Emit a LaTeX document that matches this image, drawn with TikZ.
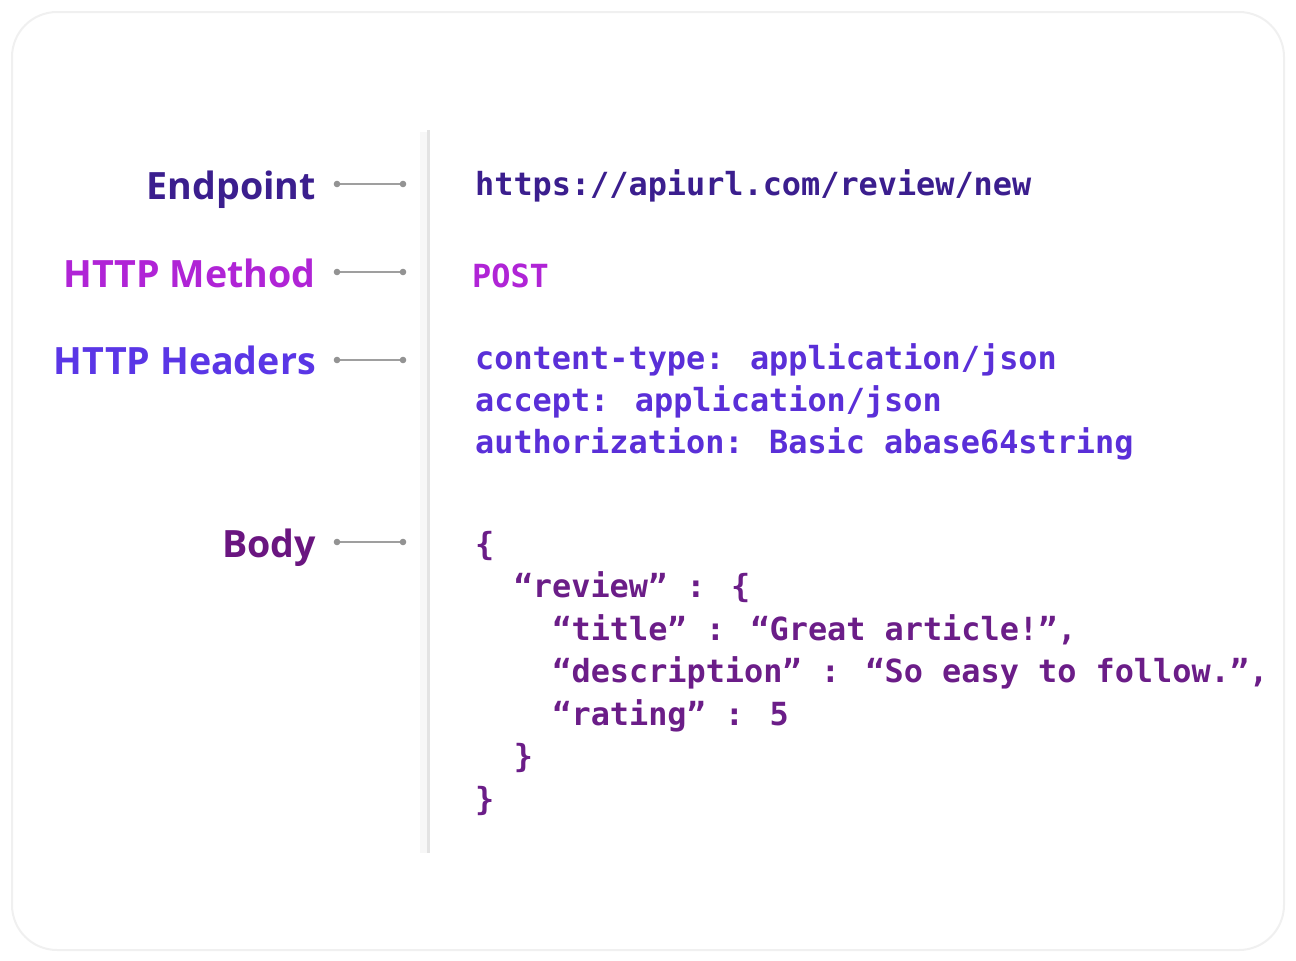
\documentclass[tikz,border=0pt]{standalone}
\usepackage{fontspec}
\setmainfont{Open Sans}
\newfontfamily\codefont{DejaVu Sans Mono}
\definecolor{cEnd}{HTML}{3B1E8E}
\definecolor{cMeth}{HTML}{B024D6}
\definecolor{cHead}{HTML}{5A36E6}
\definecolor{cHeadCode}{HTML}{5A2FD8}
\definecolor{cBody}{HTML}{6A1580}
\definecolor{cBodyCode}{HTML}{6B1D88}
\tikzset{
  lbl/.style={anchor=base east, inner sep=0pt, font=\fontsize{37.6}{44}\selectfont\bfseries},
  code/.style={anchor=base west, inner sep=0pt, font=\fontsize{31.85}{42}\selectfont\codefont\bfseries},
  conn/.style={draw=gray!75, line width=1.5pt},
  dotmark/.style={fill=gray!85, draw=none}
}
\begin{document}
\begin{tikzpicture}[x=1pt,y=-1pt]
\useasboundingbox (0,0) rectangle (1296,961);
% card
\draw[draw=gray!12, line width=2pt, fill=white, rounded corners=45pt] (12,12) rectangle (1284,950);
% divider
\draw[gray!6, line width=8pt] (424,132) -- (424,853);
\draw[gray!22, line width=3pt] (428,130) -- (428,853);

% labels
\node[lbl, text=cEnd] (lEnd) at (316,199) {Endpoint};
\node[lbl, text=cMeth] (lMeth) at (316,287) {HTTP Method};
\node[lbl, text=cHead] (lHead) at (316,374) {HTTP Headers};
\node[lbl, text=cBody] (lBody) at (316,557) {Body};

% connectors
\foreach \n/\y in {e/184, m/272, h/360, b/542}{
  \coordinate (\n1) at (337,\y);
  \coordinate (\n2) at (403,\y);
  \draw[conn] (\n1) -- (\n2);
  \fill[dotmark] (\n1) circle (3.3pt);
  \fill[dotmark] (\n2) circle (3.3pt);
}

% code
\node[code, text=cEnd] (url) at (475,195) {https://apiurl.com/review/new};
\node[code, text=cMeth] (post) at (472,287) {POST};
\node[code, text=cHeadCode] (h1) at (475,369) {content-type: application/json};
\node[code, text=cHeadCode] (h2) at (475,411) {accept: application/json};
\node[code, text=cHeadCode] (h3) at (475,453) {authorization: Basic abase64string};

\node[code, text=cBodyCode] (b1) at (475,555) {\{};
\node[code, text=cBodyCode] (b2) at (513.6,597.5) {“review” : \{};
\node[code, text=cBodyCode] (b3) at (552.2,640) {“title” : “Great article!”,};
\node[code, text=cBodyCode] (b4) at (552.2,682.5) {“description” : “So easy to follow.”,};
\node[code, text=cBodyCode] (b5) at (552.2,725) {“rating” : 5};
\node[code, text=cBodyCode] (b6) at (513.6,767.5) {\}};
\node[code, text=cBodyCode] (b7) at (475,810) {\}};
\end{tikzpicture}
\end{document}
